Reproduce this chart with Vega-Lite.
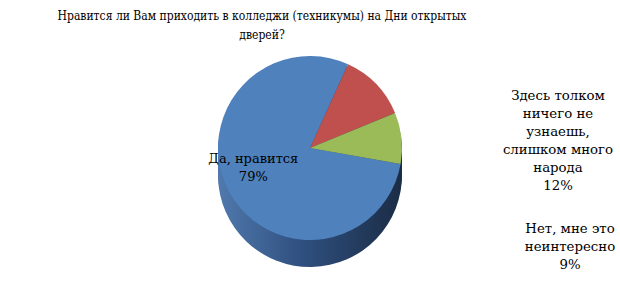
{
  "$schema": "https://vega.github.io/schema/vega-lite/v6.json",
  "width": 620,
  "height": 290,
  "autosize": {"type": "fit", "contains": "padding"},
  "padding": {"top": 10, "left": 0, "right": 0, "bottom": 0},
  "background": "white",
  "title": {
    "text": ["Нравится ли Вам приходить в колледжи (техникумы) на Дни открытых", "дверей?"],
    "font": "DejaVu Serif Condensed",
    "fontSize": 12,
    "fontWeight": "normal",
    "color": "#000000",
    "lineHeight": 19,
    "anchor": "middle",
    "dx": -48,
    "dy": 10,
    "offset": 4
  },
  "data": {
    "values": [
      {"answer": "Да, нравится", "percent": 79, "label": "Да, нравится\n79%"},
      {"answer": "Здесь толком ничего не узнаешь, слишком много народа", "percent": 12, "label": "Здесь толком\nничего не\nузнаешь,\nслишком много\nнарода\n12%"},
      {"answer": "Нет, мне это неинтересно", "percent": 9, "label": "Нет, мне это\nнеинтересно\n9%"}
    ]
  },
  "encoding": {
    "theta": {"field": "percent", "type": "quantitative", "stack": true, "scale": {"range": [1.745, 8.029]}},
    "order": {"field": "percent", "sort": "descending"}
  },
  "layer": [
    {"transform": [{"aggregate": [{"op": "sum", "field": "percent", "as": "percent"}]}],
     "mark": {"type": "arc", "outerRadius": 92, "yOffset": 12, "color": {"gradient": "linear", "x1": 0, "x2": 1, "y1": 0, "y2": 0, "stops": [{"offset": 0, "color": "#5079ad"}, {"offset": 0.45, "color": "#2f5080"}, {"offset": 1, "color": "#1b2c45"}]}}},
    {"transform": [{"aggregate": [{"op": "sum", "field": "percent", "as": "percent"}]}],
     "mark": {"type": "arc", "outerRadius": 92, "yOffset": 9, "color": {"gradient": "linear", "x1": 0, "x2": 1, "y1": 0, "y2": 0, "stops": [{"offset": 0, "color": "#5079ad"}, {"offset": 0.45, "color": "#2f5080"}, {"offset": 1, "color": "#1b2c45"}]}}},
    {"transform": [{"aggregate": [{"op": "sum", "field": "percent", "as": "percent"}]}],
     "mark": {"type": "arc", "outerRadius": 92, "yOffset": 6, "color": {"gradient": "linear", "x1": 0, "x2": 1, "y1": 0, "y2": 0, "stops": [{"offset": 0, "color": "#5079ad"}, {"offset": 0.45, "color": "#2f5080"}, {"offset": 1, "color": "#1b2c45"}]}}},
    {"transform": [{"aggregate": [{"op": "sum", "field": "percent", "as": "percent"}]}],
     "mark": {"type": "arc", "outerRadius": 92, "yOffset": 3, "color": {"gradient": "linear", "x1": 0, "x2": 1, "y1": 0, "y2": 0, "stops": [{"offset": 0, "color": "#5079ad"}, {"offset": 0.45, "color": "#2f5080"}, {"offset": 1, "color": "#1b2c45"}]}}},
    {"transform": [{"aggregate": [{"op": "sum", "field": "percent", "as": "percent"}]}],
     "mark": {"type": "arc", "outerRadius": 92, "yOffset": 0, "color": {"gradient": "linear", "x1": 0, "x2": 1, "y1": 0, "y2": 0, "stops": [{"offset": 0, "color": "#5079ad"}, {"offset": 0.45, "color": "#2f5080"}, {"offset": 1, "color": "#1b2c45"}]}}},
    {"transform": [{"aggregate": [{"op": "sum", "field": "percent", "as": "percent"}]}],
     "mark": {"type": "arc", "outerRadius": 92, "yOffset": -3, "color": {"gradient": "linear", "x1": 0, "x2": 1, "y1": 0, "y2": 0, "stops": [{"offset": 0, "color": "#5079ad"}, {"offset": 0.45, "color": "#2f5080"}, {"offset": 1, "color": "#1b2c45"}]}}},
    {"transform": [{"aggregate": [{"op": "sum", "field": "percent", "as": "percent"}]}],
     "mark": {"type": "arc", "outerRadius": 92, "yOffset": -6, "color": {"gradient": "linear", "x1": 0, "x2": 1, "y1": 0, "y2": 0, "stops": [{"offset": 0, "color": "#5079ad"}, {"offset": 0.45, "color": "#2f5080"}, {"offset": 1, "color": "#1b2c45"}]}}},
    {"transform": [{"aggregate": [{"op": "sum", "field": "percent", "as": "percent"}]}],
     "mark": {"type": "arc", "outerRadius": 92, "yOffset": -9, "color": {"gradient": "linear", "x1": 0, "x2": 1, "y1": 0, "y2": 0, "stops": [{"offset": 0, "color": "#5079ad"}, {"offset": 0.45, "color": "#2f5080"}, {"offset": 1, "color": "#1b2c45"}]}}},
    {"transform": [{"aggregate": [{"op": "sum", "field": "percent", "as": "percent"}]}],
     "mark": {"type": "arc", "outerRadius": 92, "yOffset": -12, "color": {"gradient": "linear", "x1": 0, "x2": 1, "y1": 0, "y2": 0, "stops": [{"offset": 0, "color": "#5079ad"}, {"offset": 0.45, "color": "#2f5080"}, {"offset": 1, "color": "#1b2c45"}]}}},
    {"mark": {"type": "arc", "outerRadius": 92, "yOffset": -15},
     "encoding": {
       "color": {"field": "answer", "type": "nominal", "legend": null,
         "scale": {"domain": ["Да, нравится", "Здесь толком ничего не узнаешь, слишком много народа", "Нет, мне это неинтересно"], "range": ["#4f81bd", "#c0504d", "#9bbb59"]}}
     }},
    {"mark": {"type": "text", "radius": 72, "yOffset": -15, "dx": 7, "dy": -23, "font": "DejaVu Serif", "fontSize": 13, "lineBreak": "\n", "lineHeight": 18, "color": "#000000"},
     "encoding": {"text": {"condition": {"test": "datum.answer === 'Да, нравится'", "field": "label"}, "value": ""}}},
    {"mark": {"type": "text", "radius": 0, "yOffset": -15, "dx": 248, "dy": -52, "font": "DejaVu Serif", "fontSize": 13.3, "lineBreak": "\n", "lineHeight": 18, "color": "#000000"},
     "encoding": {"text": {"condition": {"test": "datum.percent === 12", "field": "label"}, "value": ""}}},
    {"mark": {"type": "text", "radius": 0, "yOffset": -15, "dx": 260, "dy": 81, "font": "DejaVu Serif", "fontSize": 13.3, "lineBreak": "\n", "lineHeight": 18, "color": "#000000"},
     "encoding": {"text": {"condition": {"test": "datum.percent === 9", "field": "label"}, "value": ""}}}
  ]
}
